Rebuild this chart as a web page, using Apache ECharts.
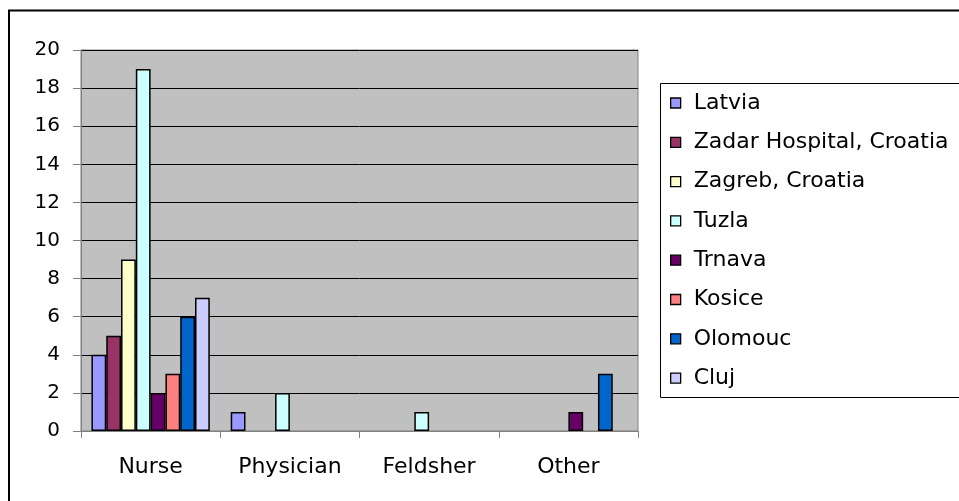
<!DOCTYPE html>
<html>
<head>
<meta charset="utf-8">
<script src="https://cdn.jsdelivr.net/npm/echarts@6/dist/echarts.min.js"></script>
<style>
  html, body { margin: 0; padding: 0; background: #fff; }
  #chart { width: 959px; height: 501px; }
</style>
</head>
<body>
<div id="chart"></div>
<script>
// categories on the x axis
const categories = ['Nurse', 'Physician', 'Feldsher', 'Other'];

// one array per site, values per category
const latvia  = [4, 1, 0, 0];
const zadar   = [5, 0, 0, 0];
const zagreb  = [9, 0, 0, 0];
const tuzla   = [19, 2, 1, 0];
const trnava  = [2, 0, 0, 1];
const kosice  = [3, 0, 0, 0];
const olomouc = [6, 0, 0, 3];
const cluj    = [7, 0, 0, 0];

const seriesNames = ['Latvia', 'Zadar Hospital, Croatia', 'Zagreb, Croatia', 'Tuzla',
                     'Trnava', 'Kosice', 'Olomouc', 'Cluj'];
const seriesData = [latvia, zadar, zagreb, tuzla, trnava, kosice, olomouc, cluj];
const colors = ['#9999FF', '#993366', '#FFFFCC', '#CCFFFF', '#660066', '#FF8080', '#0066CC', '#CCCCFF'];

const font = 'DejaVu Sans';

const chart = echarts.init(document.getElementById('chart'), null, { renderer: 'canvas' });

const option = {
    animation: false,
    backgroundColor: '#fff',
    color: colors,
    grid: {
        left: 81, top: 50, right: 321, bottom: 70,
        show: true,
        backgroundColor: '#C0C0C0',
        borderColor: '#808080',
        borderWidth: 1
    },
    legend: {
        orient: 'vertical',
        left: 670,
        top: 92,
        padding: 0,
        itemGap: 17.3,
        itemWidth: 10,
        itemHeight: 10,
        icon: 'rect',
        itemStyle: { borderColor: '#000', borderWidth: 1.3 },
        textStyle: { fontFamily: font, fontSize: 22, color: '#000', lineHeight: 22, padding: [0, 0, 0, 8] },
        data: seriesNames
    },
    xAxis: {
        type: 'category',
        data: categories,
        axisLine: { lineStyle: { color: '#808080', width: 1 } },
        axisTick: { show: true, length: 7, lineStyle: { color: '#808080' } },
        axisLabel: { fontFamily: font, fontSize: 22, color: '#000', margin: 25 }
    },
    yAxis: {
        type: 'value',
        min: 0,
        max: 20,
        interval: 2,
        axisLine: { show: true, lineStyle: { color: '#808080', width: 1 } },
        axisTick: { show: true, length: 8, lineStyle: { color: '#808080' } },
        axisLabel: { fontFamily: font, fontSize: 20, color: '#000', margin: 21 },
        splitLine: { show: true, lineStyle: { color: '#000', width: 1 } }
    },
    series: seriesNames.map((name, i) => ({
        name: name,
        type: 'bar',
        barGap: 0,
        barCategoryGap: '15%',
        itemStyle: { borderColor: '#000', borderWidth: 1.5 },
        data: seriesData[i].map(v => (v === 0 ? '-' : v))
    })),
    graphic: [
        {
            type: 'rect',
            shape: { x: 9, y: 10.5, width: 1000, height: 600 },
            style: { fill: 'none', stroke: '#000', lineWidth: 2 },
            z: 100
        },
        {
            type: 'rect',
            shape: { x: 660.5, y: 83.5, width: 400, height: 314 },
            style: { fill: 'none', stroke: '#000', lineWidth: 1 },
            z: 100
        }
    ]
};

chart.setOption(option);
</script>
</body>
</html>
